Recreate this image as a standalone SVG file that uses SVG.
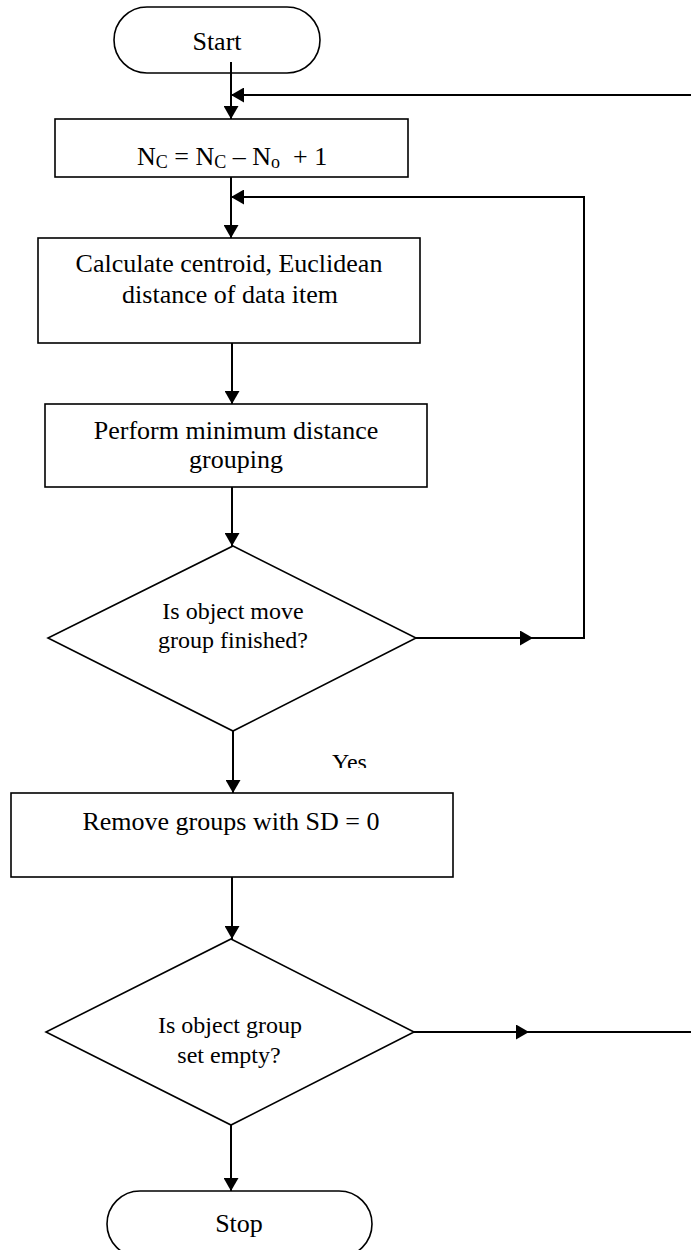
<svg xmlns="http://www.w3.org/2000/svg" width="691" height="1250" viewBox="0 0 691 1250">
<style>
.shape{fill:#fff;stroke:#000;stroke-width:1.6}
.conn{fill:none;stroke:#000;stroke-width:2}
.t{font-family:"Liberation Serif","Times New Roman",serif;font-size:26px;fill:#000;text-anchor:middle}
.d{font-size:24px}
</style>
<defs>
<marker id="arr" markerUnits="userSpaceOnUse" markerWidth="13" markerHeight="15" refX="13" refY="7.5" orient="auto">
<path d="M0,0 L13,7.5 L0,15 z" fill="#000"/>
</marker>
<clipPath id="yesclip"><rect x="300" y="740" width="100" height="28"/></clipPath>
</defs>
<rect width="691" height="1250" fill="#fff"/>
<g id="start">
<rect class="shape" x="114" y="7" width="206" height="66" rx="33" ry="33"/>
<text class="t" x="217" y="50">Start</text>
</g>
<g id="nc">
<rect class="shape" x="55" y="119" width="353" height="58"/>
<text class="t" x="137" y="165" style="text-anchor:start" xml:space="preserve">N<tspan font-size="18" dy="3">C</tspan><tspan dy="-3"> = N</tspan><tspan font-size="18" dy="3">C</tspan><tspan dy="-3"> – N</tspan><tspan font-size="18" dy="3">o</tspan><tspan dy="-3">  + 1</tspan></text>
</g>
<g id="calc">
<rect class="shape" x="38" y="238" width="382" height="105"/>
<text class="t" x="229" y="272">Calculate centroid, Euclidean</text>
<text class="t" x="230" y="303">distance of data item</text>
</g>
<g id="perform">
<rect class="shape" x="45" y="404" width="382" height="83"/>
<text class="t" x="236" y="439">Perform minimum distance</text>
<text class="t" x="236" y="468">grouping</text>
</g>
<g id="decision1">
<polygon class="shape" points="233,546 416,638 233,731 48,638"/>
<text class="t d" x="233" y="619">Is object move</text>
<text class="t d" x="233" y="648">group finished?</text>
</g>
<g id="remove">
<rect class="shape" x="11" y="793" width="442" height="84"/>
<text class="t" x="231" y="830">Remove groups with SD = 0</text>
</g>
<g id="decision2">
<polygon class="shape" points="231,939 414,1032 231,1125 46,1032"/>
<text class="t d" x="230" y="1033">Is object group</text>
<text class="t d" x="229" y="1063">set empty?</text>
</g>
<g id="stop">
<rect class="shape" x="107" y="1191" width="265" height="66" rx="33" ry="33"/>
<text class="t" x="239" y="1232">Stop</text>
</g>
<g id="connectors">
<line class="conn" x1="231" y1="62" x2="231" y2="119" marker-end="url(#arr)"/>
<line class="conn" x1="691" y1="95" x2="231" y2="95" marker-end="url(#arr)"/>
<line class="conn" x1="231" y1="177" x2="231" y2="238" marker-end="url(#arr)"/>
<line class="conn" x1="416" y1="638" x2="533" y2="638" marker-end="url(#arr)"/>
<polyline class="conn" points="533,638 584,638 584,197 231,197" marker-end="url(#arr)"/>
<line class="conn" x1="232" y1="343" x2="232" y2="404" marker-end="url(#arr)"/>
<line class="conn" x1="232" y1="487" x2="232" y2="546" marker-end="url(#arr)"/>
<line class="conn" x1="233" y1="731" x2="233" y2="793" marker-end="url(#arr)"/>
<text class="t d" x="332" y="770" style="text-anchor:start" clip-path="url(#yesclip)">Yes</text>
<line class="conn" x1="232" y1="877" x2="232" y2="939" marker-end="url(#arr)"/>
<line class="conn" x1="414" y1="1032" x2="529" y2="1032" marker-end="url(#arr)"/>
<line class="conn" x1="529" y1="1032" x2="691" y2="1032"/>
<line class="conn" x1="231" y1="1125" x2="231" y2="1191" marker-end="url(#arr)"/>
</g>
</svg>
